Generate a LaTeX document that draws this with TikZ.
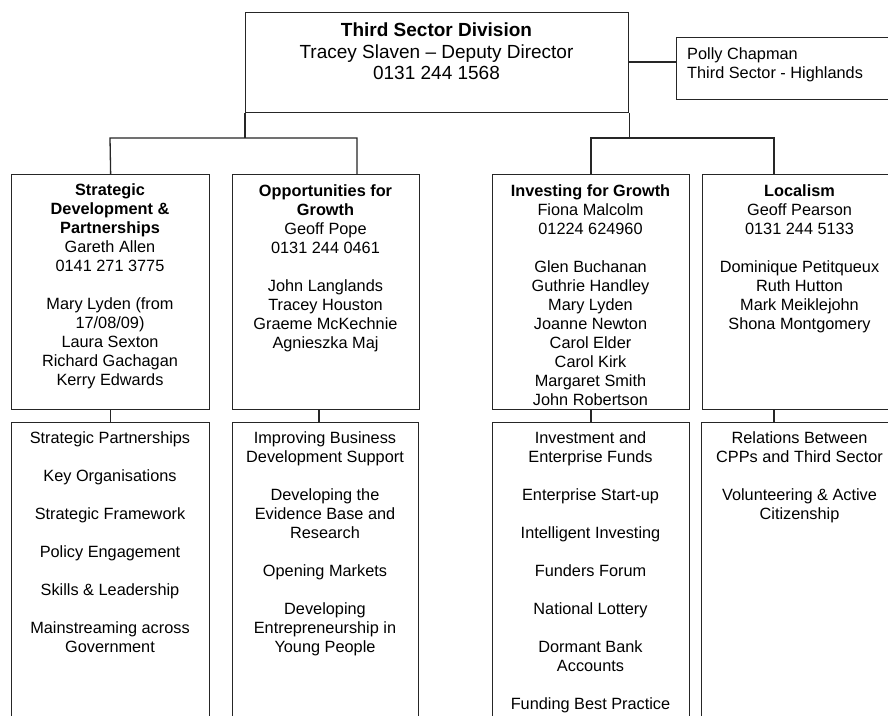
\documentclass[tikz,border=0pt]{standalone}
\usepackage{fontspec}
\setmainfont{Liberation Sans}
\begin{document}
\begin{tikzpicture}[x=1pt,y=1pt,
  box/.style={draw=black!85, line width=1.3pt, rectangle, inner sep=0pt, anchor=north west},
  conn/.style={draw=black!85, line width=1.3pt},
  txt/.style={align=center, anchor=north, inner sep=0pt, font=\fontsize{16.3}{19}\selectfont},
  toptxt/.style={align=center, anchor=north, inner sep=0pt, font=\fontsize{19}{21.5}\selectfont}
]
\useasboundingbox (0,0) rectangle (888,-715);
\fill[white] (0,0) rectangle (888,-715);
\clip (0,0) rectangle (888,-715);

% top box
\node[box, minimum width=383pt, minimum height=100pt] (top) at (245,-12) {};
\node[toptxt] (toptext) at (436.5,-23) {\textbf{Third Sector Division}\\Tracey Slaven – Deputy Director\\0131 244 1568};

% Polly
\node[box, minimum width=224pt, minimum height=62pt] (polly) at (676,-37) {};
\node[align=left, anchor=north west, inner sep=0pt, font=\fontsize{16.3}{19}\selectfont] (pollytext) at (687,-47) {Polly Chapman\\Third Sector - Highlands};

% row 2 boxes
\node[box, minimum width=198pt, minimum height=235pt] (sdp) at (11,-174) {};
\node[box, minimum width=187pt, minimum height=235pt] (ofg) at (232,-174) {};
\node[box, minimum width=197pt, minimum height=235pt] (ifg) at (492,-174) {};
\node[box, minimum width=195pt, minimum height=235pt] (loc) at (702,-174) {};

% row 3 boxes
\node[box, minimum width=198pt, minimum height=310pt] (sdp3) at (11,-422) {};
\node[box, minimum width=186pt, minimum height=310pt] (ofg3) at (232,-422) {};
\node[box, minimum width=197pt, minimum height=310pt] (ifg3) at (492,-422) {};
\node[box, minimum width=196pt, minimum height=310pt] (loc3) at (701,-422) {};

% row 2 texts
\node[txt] (sdpt) at (110,-183) {\textbf{Strategic}\\\textbf{Development \&}\\\textbf{Partnerships}\\Gareth Allen\\0141 271 3775\\[19pt]Mary Lyden (from\\17/08/09)\\Laura Sexton\\Richard Gachagan\\Kerry Edwards};
\node[txt] (ofgt) at (325.5,-184) {\textbf{Opportunities for}\\\textbf{Growth}\\Geoff Pope\\0131 244 0461\\[19pt]John Langlands\\Tracey Houston\\Graeme McKechnie\\Agnieszka Maj};
\node[txt] (ifgt) at (590.5,-184) {\textbf{Investing for Growth}\\Fiona Malcolm\\01224 624960\\[19pt]Glen Buchanan\\Guthrie Handley\\Mary Lyden\\Joanne Newton\\Carol Elder\\Carol Kirk\\Margaret Smith\\John Robertson};
\node[txt] (loct) at (799.5,-184) {\textbf{Localism}\\Geoff Pearson\\0131 244 5133\\[19pt]Dominique Petitqueux\\Ruth Hutton\\Mark Meiklejohn\\Shona Montgomery};

% row 3 texts
\node[txt] (sdp3t) at (110,-431) {Strategic Partnerships\\[19pt]Key Organisations\\[19pt]Strategic Framework\\[19pt]Policy Engagement\\[19pt]Skills \& Leadership\\[19pt]Mainstreaming across\\Government};
\node[txt] (ofg3t) at (325,-431) {Improving Business\\Development Support\\[19pt]Developing the\\Evidence Base and\\Research\\[19pt]Opening Markets\\[19pt]Developing\\Entrepreneurship in\\Young People};
\node[txt] (ifg3t) at (590.5,-431) {Investment and\\Enterprise Funds\\[19pt]Enterprise Start-up\\[19pt]Intelligent Investing\\[19pt]Funders Forum\\[19pt]National Lottery\\[19pt]Dormant Bank\\Accounts\\[19pt]Funding Best Practice};
\node[txt] (loc3t) at (799.5,-431) {Relations Between\\CPPs and Third Sector\\[19pt]Volunteering \& Active\\Citizenship};

% connectors
\coordinate (jL1) at (110,-138);
\coordinate (jL2) at (357,-138);
\coordinate (jR1) at (591,-138);
\coordinate (jR2) at (774,-138);
\draw[conn] (top.east |- 0,-62) -- (polly.west |- 0,-62);
\draw[conn] (top.south west) -- (top.south west |- jL1);
\draw[conn] (top.south east) -- (top.south east |- jR1);
\draw[conn] (sdp.north) -- (jL1) -- (jL2) -- (jL2 |- ofg.north);
\draw[conn] (jR1 |- ifg.north) -- (jR1) -- (jR2) -- (jR2 |- loc.north);
\draw[conn] (sdp.south) -- (sdp3.north);
\draw[conn] (ofg.south -| 319,0) -- (ofg3.north -| 319,0);
\draw[conn] (ifg.south -| jR1) -- (ifg3.north -| jR1);
\draw[conn] (loc.south -| jR2) -- (loc3.north -| jR2);
\end{tikzpicture}
\end{document}
